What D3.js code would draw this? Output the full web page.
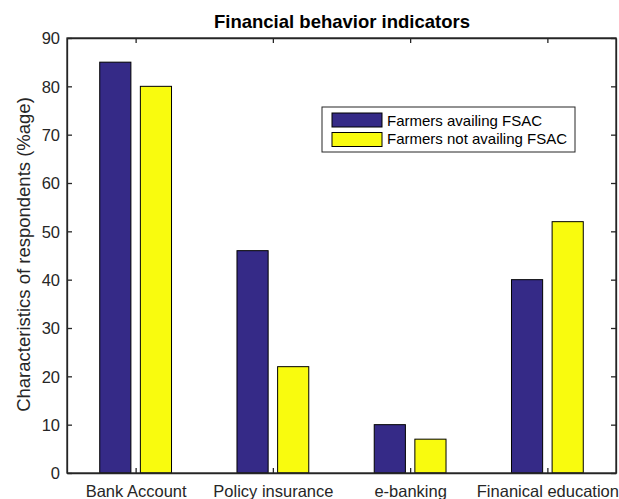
<!DOCTYPE html>
<html><head><meta charset="utf-8">
<script src="https://cdn.jsdelivr.net/npm/d3@7"></script>
<style>body{margin:0;background:#fff;overflow:hidden;} text{font-family:"Liberation Sans",Arial,Helvetica,sans-serif;}</style>
</head><body>
<svg id="c" width="619" height="499"></svg>
<script>
const categories = ["Bank Account","Policy insurance","e-banking","Finanical education"];
const seriesNames = ["Farmers availing FSAC","Farmers not availing FSAC"];
const availing = [85,46,10,40];
const notAvailing = [80,22,7,52];
const yTicks = [0,10,20,30,40,50,60,70,80,90];
const colors = ["#352A87","#F9FB0E"];

const svg = d3.select("#c");
const L=67, R=616, T=38, B=473;
const x = d3.scaleLinear().domain([0.5,4.5]).range([L,R]);
const y = d3.scaleLinear().domain([0,90]).range([B,T]);
const barW = 0.227, off = 0.148;
const series=[availing,notAvailing];
const axisCol="#262626";

series.forEach((s,si)=>{
  svg.append("g").selectAll("rect").data(s).join("rect")
    .attr("x",(d,i)=>x(i+1+(si===0?-off:off))-(x(barW)-x(0))/2)
    .attr("width",x(barW)-x(0))
    .attr("y",d=>y(d)).attr("height",d=>y(0)-y(d))
    .attr("fill",colors[si]).attr("stroke","#000").attr("stroke-width",1);
});

// axes
const gl = svg.append("g").attr("transform",`translate(${L},0)`)
  .call(d3.axisLeft(y).tickValues(yTicks).tickSizeInner(-5).tickSizeOuter(0).tickPadding(7));
const gr = svg.append("g").attr("transform",`translate(${R},0)`)
  .call(d3.axisRight(y).tickValues(yTicks).tickSizeInner(-5).tickSizeOuter(0).tickFormat(""));
const gb = svg.append("g").attr("transform",`translate(0,${B})`)
  .call(d3.axisBottom(x).tickValues([1,2,3,4]).tickFormat((d,i)=>categories[i]).tickSizeInner(-5).tickSizeOuter(0).tickPadding(12));
const gt = svg.append("g").attr("transform",`translate(0,${T})`)
  .call(d3.axisTop(x).tickValues([1,2,3,4]).tickSizeInner(-5).tickSizeOuter(0).tickFormat(""));
[gl,gr,gb,gt].forEach(g=>{
  g.selectAll("path").attr("stroke",axisCol).attr("stroke-width",1.3);
  g.selectAll("line").attr("stroke",axisCol).attr("stroke-width",1.3);
  g.selectAll("text").attr("fill","#262626").style("font-size","16.5px").style("font-family","'Liberation Sans',Arial,sans-serif");
});
gl.selectAll("text").attr("dy","0.36em");
svg.append("rect").attr("x",L).attr("y",T).attr("width",R-L).attr("height",B-T)
  .attr("fill","none").attr("stroke",axisCol).attr("stroke-width",1.3);

// title
svg.append("text").attr("x",342).attr("y",28).attr("text-anchor","middle")
  .style("font-weight","bold").style("font-size","18.5px").attr("fill","#000").text("Financial behavior indicators");

// y label
svg.append("text").attr("transform",`translate(30,${254.5}) rotate(-90)`)
  .attr("text-anchor","middle").style("font-size","18.5px").attr("fill","#262626")
  .text("Characteristics of respondents (%age)");

// legend
const lg = svg.append("g");
lg.append("rect").attr("x",322).attr("y",107).attr("width",253).attr("height",45)
  .attr("fill","#fff").attr("stroke","#262626").attr("stroke-width",1);
seriesNames.forEach((n,i)=>{
  lg.append("rect").attr("x",332).attr("y",113+i*19.5).attr("width",50).attr("height",14)
    .attr("fill",colors[i]).attr("stroke","#000").attr("stroke-width",1);
  lg.append("text").attr("x",387).attr("y",126+i*17.5).style("font-size","15px").attr("fill","#000").text(n);
});
</script>
</body></html>
